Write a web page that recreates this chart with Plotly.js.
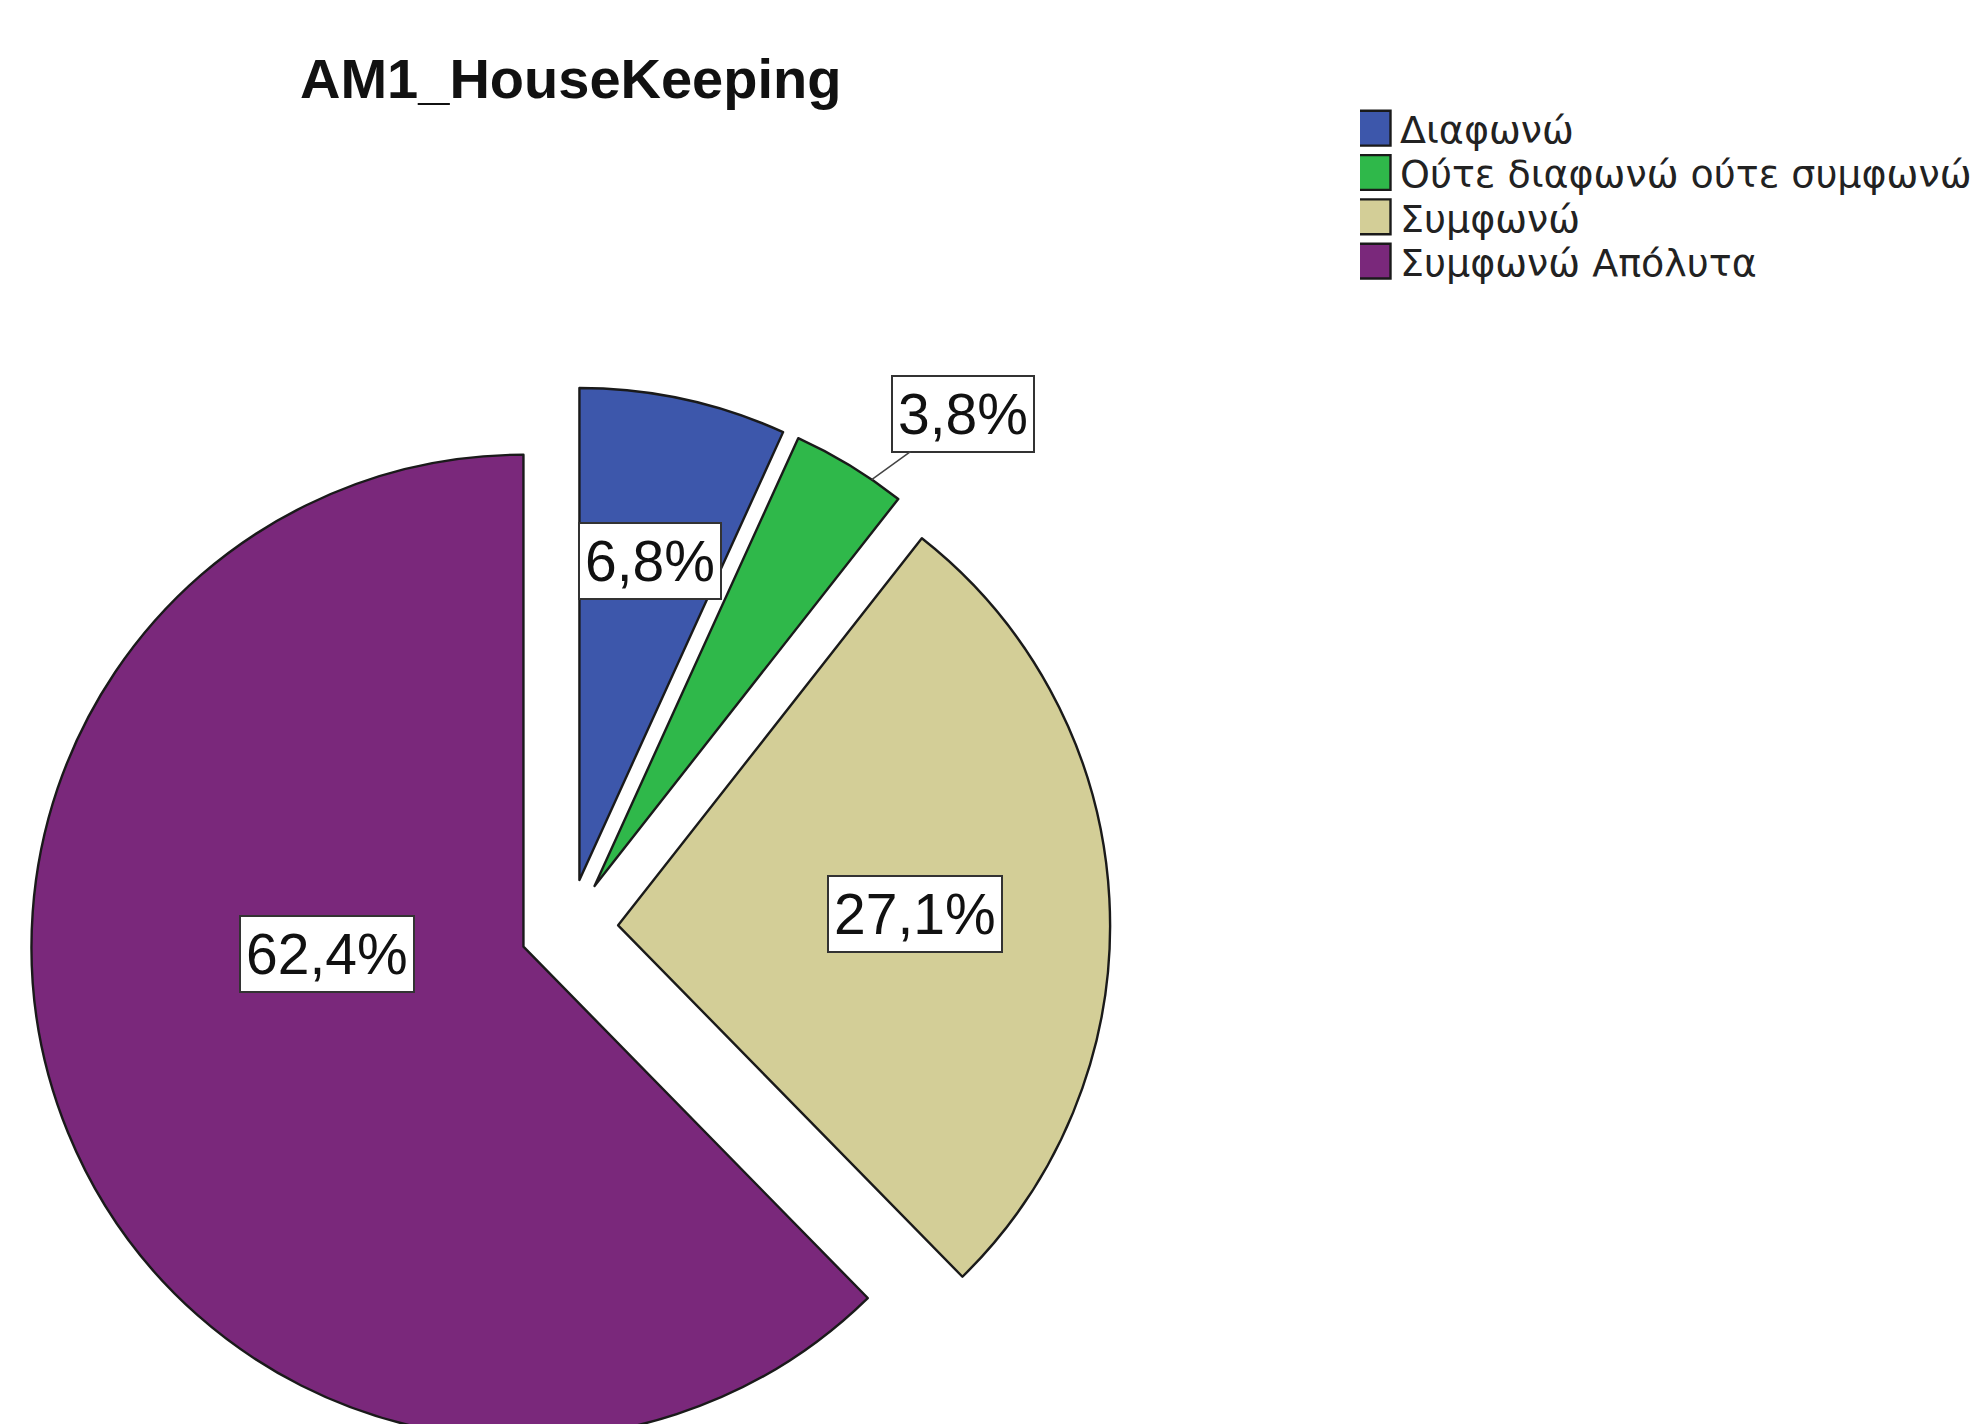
<!DOCTYPE html>
<html><head><meta charset="utf-8">
<script src="https://cdn.plot.ly/plotly-3.0.1.min.js"></script>
<style>html,body{margin:0;padding:0;width:1980px;height:1424px;overflow:hidden;background:#fff}#chart{width:1980px;height:1480px}</style>
</head><body><div id="chart"></div>
<script>
// ---- data ----
const categories = ['Διαφωνώ', 'Ούτε διαφωνώ ούτε συμφωνώ', 'Συμφωνώ', 'Συμφωνώ Απόλυτα'];
const percents = [6.8, 3.8, 27.1, 62.4];
const sliceColors = ['#3D57AB', '#2FB84A', '#D3CE97', '#7A287B'];
const chartTitle = 'AM1_HouseKeeping';

// ---- layout settings ----
const W = 1980, H = 1480;
const pull = 0.1;
const dom = {x: [0.01404, 0.56071], y: [0.0073, 0.7386]};
const labelRadius = [0.664, 1.218, 0.604, 0.4];
const labelShift = [0.25, 6.7, 1, 20.2];
const outsideLabel = [false, true, false, false];
const tipShift = 3.0;
const legendRowGap = 44.3;

const rad = d => d * Math.PI / 180;
const cx = W * (dom.x[0] + dom.x[1]) / 2;
const cy = H * (1 - (dom.y[0] + dom.y[1]) / 2);
const r = Math.min(W * (dom.x[1] - dom.x[0]), H * (dom.y[1] - dom.y[0])) / (2 * (1 + pull));
const total = percents.reduce((a, b) => a + b, 0);

const annotations = [];
let cum = 0;
percents.forEach((v, i) => {
  const mid = 360 * (cum + v / 2) / total;
  cum += v;
  const vx = cx + pull * r * Math.sin(rad(mid));
  const vy = cy - pull * r * Math.cos(rad(mid));
  const a = mid + labelShift[i];
  const bx = vx + labelRadius[i] * r * Math.sin(rad(a));
  const by = vy - labelRadius[i] * r * Math.cos(rad(a));
  const txt = v.toFixed(1).replace('.', ',') + '%';
  const base = {
    xref: 'paper', yref: 'paper', text: txt,
    xanchor: 'center', yanchor: 'middle',
    font: {family: 'Liberation Sans, Arial, sans-serif', size: 57, color: '#111'},
    bgcolor: '#ffffff', bordercolor: '#333', borderwidth: 2, borderpad: 5
  };
  if (outsideLabel[i]) {
    const ta = mid + tipShift;
    const tx = vx + r * Math.sin(rad(ta));
    const ty = vy - r * Math.cos(rad(ta));
    annotations.push(Object.assign(base, {
      x: tx / W, y: 1 - ty / H, showarrow: true, arrowhead: 0, arrowwidth: 1.5, arrowcolor: '#444',
      ax: bx - tx, ay: by - ty, standoff: 0, startstandoff: 0
    }));
  } else {
    annotations.push(Object.assign(base, {x: bx / W, y: 1 - by / H, showarrow: false}));
  }
});

const trace = {
  type: 'pie',
  labels: categories,
  values: percents,
  sort: false,
  direction: 'clockwise',
  rotation: 0,
  pull: pull,
  textinfo: 'none',
  hoverinfo: 'none',
  marker: {colors: sliceColors, line: {color: '#1a1a1a', width: 2.4}},
  domain: dom
};

const layout = {
  width: W, height: H,
  margin: {l: 0, r: 0, t: 0, b: 0},
  paper_bgcolor: '#fff',
  title: {
    text: '<b>' + chartTitle + '</b>',
    font: {family: 'Liberation Sans, Arial, sans-serif', size: 56, color: '#111'},
    xref: 'paper', x: 300 / W, xanchor: 'left',
    yref: 'container', y: 1 - 98 / H, yanchor: 'bottom'
  },
  showlegend: true,
  legend: {
    x: 1360 / W, xanchor: 'left', y: 1 - 97 / H, yanchor: 'top',
    font: {family: 'DejaVu Sans, sans-serif', size: 38, color: '#222'},
    bgcolor: 'rgba(0,0,0,0)', borderwidth: 0
  },
  annotations: annotations
};

Plotly.newPlot('chart', [trace], layout, {staticPlot: true, displayModeBar: false}).then(gd => {
  gd.querySelectorAll('.legendpoints path.legendpie').forEach(p => {
    p.setAttribute('transform', 'translate(14,0) scale(2.75,2.9)');
    p.style.vectorEffect = 'non-scaling-stroke';
  });
  // tighten legend row spacing
  const items = Array.from(gd.querySelectorAll('.legend .traces'));
  if (items.length) {
    const parse = el => {
      const m = /translate\(\s*([-\d.]+)[ ,]+([-\d.]+)\s*\)/.exec(el.getAttribute('transform') || '');
      return m ? [parseFloat(m[1]), parseFloat(m[2])] : [0, 0];
    };
    const first = parse(items[0]);
    items.forEach((el, i) => {
      const t = parse(el);
      el.setAttribute('transform', 'translate(' + t[0] + ',' + (first[1] + i * legendRowGap) + ')');
    });
  }
});
</script>
</body></html>
